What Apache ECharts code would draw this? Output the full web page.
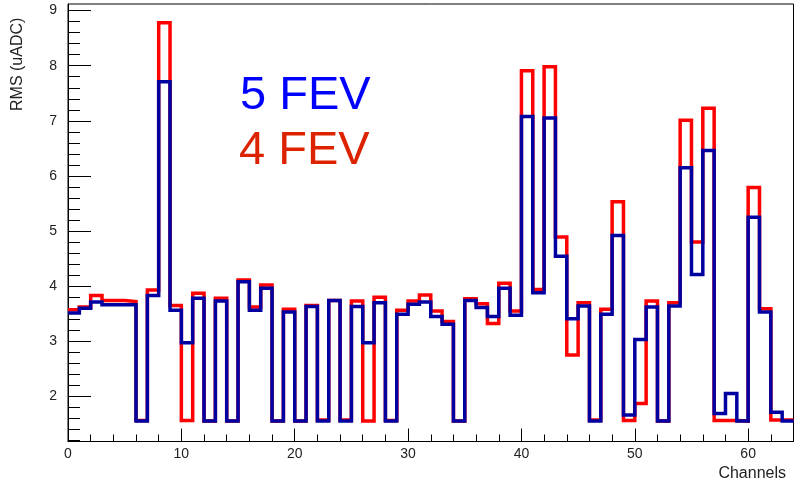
<!DOCTYPE html>
<html>
<head>
<meta charset="utf-8">
<script src="https://cdn.jsdelivr.net/npm/echarts@6/dist/echarts.min.js"></script>
<style>html,body{margin:0;padding:0;background:#fff;}#c{width:795px;height:486px;}</style>
</head>
<body>
<div id="c"></div>
<script>
// Channel values (RMS, uADC) per channel 0..63
const fev4 = [3.57,3.62,3.83,3.74,3.74,3.72,1.56,3.93,8.78,3.65,
              1.56,3.87,1.55,3.78,1.55,4.11,3.62,4.02,1.55,3.58,
              1.55,3.65,1.57,3.74,1.57,3.73,1.55,3.80,1.56,3.56,
              3.73,3.84,3.55,3.36,1.55,3.77,3.68,3.32,4.05,3.55,
              7.91,3.94,7.98,4.89,2.75,3.70,1.57,3.58,5.53,1.56,
              1.87,3.73,1.55,3.70,7.01,4.80,7.23,1.56,1.56,1.55,
              5.79,3.59,1.57,1.57];
const fev5 = [3.51,3.60,3.71,3.66,3.66,3.66,1.55,3.83,7.71,3.56,
              2.97,3.78,1.55,3.73,1.55,4.08,3.56,3.96,1.55,3.53,
              1.55,3.63,1.55,3.74,1.55,3.63,2.97,3.70,1.55,3.49,
              3.67,3.71,3.45,3.31,1.55,3.74,3.61,3.45,3.96,3.47,
              7.08,3.88,7.05,4.54,3.41,3.64,1.55,3.49,4.92,1.66,
              3.03,3.62,1.55,3.64,6.15,4.21,6.46,1.69,2.05,1.55,
              5.25,3.53,1.71,1.55];
const xMajorTicks = [0,10,20,30,40,50,60];
const xMinorTicks = [2,4,6,8,12,14,16,18,22,24,26,28,32,34,36,38,42,44,46,48,52,54,56,58,62];
const yMajorTicks = [2,3,4,5,6,7,8,9];
const yMinorTicks = [1.2,1.4,1.6,1.8,2.2,2.4,2.6,2.8,3.2,3.4,3.6,3.8,4.2,4.4,4.6,4.8,
                     5.2,5.4,5.6,5.8,6.2,6.4,6.6,6.8,7.2,7.4,7.6,7.8,8.2,8.4,8.6,8.8,9.0];
const xMin = 0, xMax = 64, yMin = 1.18, yMax = 9.12;

function histPoints(vals){
  const pts = vals.map((v,i)=>[i, v]);
  pts.push([vals.length, vals[vals.length-1]]);
  return pts;
}

const chart = echarts.init(document.getElementById('c'), null, {renderer:'canvas'});
const FONT = '"Liberation Sans", Arial, sans-serif';
const axisCommon = {type:'value', splitLine:{show:false}, minorSplitLine:{show:false}};
chart.setOption({
  animation:false,
  backgroundColor:'#fff',
  grid:{left:68, right:1.5, top:4, bottom:44.5, show:true, borderColor:'#000', borderWidth:1},
  xAxis:[
    Object.assign({}, axisCommon, {
      min:xMin, max:xMax,
      axisLine:{show:true, lineStyle:{color:'#000', width:1}},
      axisTick:{show:true, inside:true, length:13, customValues:xMajorTicks, lineStyle:{color:'#000', width:1}},
      axisLabel:{show:true, customValues:xMajorTicks, margin:6, fontSize:14, color:'#222', fontFamily:FONT}
    }),
    Object.assign({}, axisCommon, {
      min:xMin, max:xMax, position:'bottom',
      axisLine:{show:false},
      axisTick:{show:true, inside:true, length:7, customValues:xMinorTicks, lineStyle:{color:'#000', width:1}},
      axisLabel:{show:false}
    })
  ],
  yAxis:[
    Object.assign({}, axisCommon, {
      min:yMin, max:yMax,
      axisLine:{show:true, lineStyle:{color:'#000', width:1}},
      axisTick:{show:true, inside:true, length:23, customValues:yMajorTicks, lineStyle:{color:'#000', width:1}},
      axisLabel:{show:true, customValues:yMajorTicks, margin:11, fontSize:14, color:'#222', fontFamily:FONT}
    }),
    Object.assign({}, axisCommon, {
      min:yMin, max:yMax, position:'left',
      axisLine:{show:false},
      axisTick:{show:true, inside:true, length:12, customValues:yMinorTicks, lineStyle:{color:'#000', width:1}},
      axisLabel:{show:false}
    })
  ],
  series:[
    {name:'4 FEV', type:'line', step:'end', symbol:'none', xAxisIndex:0, yAxisIndex:0,
     data:histPoints(fev4), lineStyle:{color:'#ff0000', width:3.5, join:'miter'}, z:2},
    {name:'5 FEV', type:'line', step:'end', symbol:'none', xAxisIndex:0, yAxisIndex:0,
     data:histPoints(fev5), lineStyle:{color:'#0000a0', width:3.5, join:'miter'}, z:3}
  ],
  graphic:[
    {type:'text', x:240, y:96, style:{text:'5 FEV', fill:'#0000ff', font:'47px '+FONT, textVerticalAlign:'middle', textAlign:'left'}},
    {type:'text', x:239, y:151, style:{text:'4 FEV', fill:'#dd2200', font:'47px '+FONT, textVerticalAlign:'middle', textAlign:'left'}},
    {type:'text', x:786, y:474, style:{text:'Channels', fill:'#222', font:'16px '+FONT, textVerticalAlign:'middle', textAlign:'right'}},
    {type:'text', x:18, y:111, rotation:Math.PI/2, style:{text:'RMS (uADC)', fill:'#222', font:'16px '+FONT, textVerticalAlign:'middle', textAlign:'left'}}
  ]
});
</script>
</body>
</html>
